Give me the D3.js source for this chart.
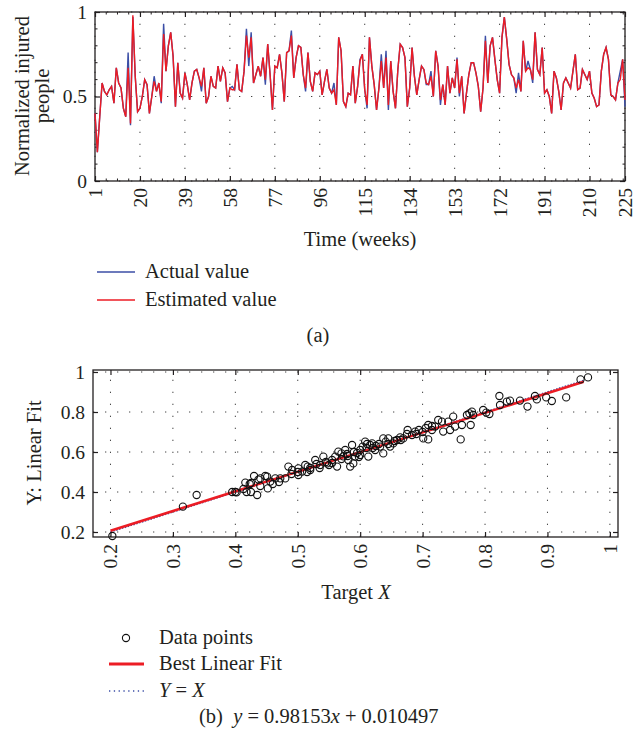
<!DOCTYPE html>
<html>
<head>
<meta charset="utf-8">
<script src="https://cdnjs.cloudflare.com/ajax/libs/d3/7.8.5/d3.min.js"></script>
<style>
body { margin: 0; background: #fff; }
text { font-family: "Liberation Serif", "Times New Roman", serif; fill: #231f20; }
</style>
</head>
<body>
<div id="chart-area"></div>
<script>
// (a) weekly values
var estimated = [
  .40,.17,.38,.58,.53,.51,.54,.56,.46,.67,
  .58,.55,.43,.38,.67,.34,.98,.62,.41,.43,
  .50,.60,.57,.40,.50,.59,.53,.58,.47,.87,
  .65,.80,.88,.74,.44,.70,.52,.49,.64,.57,
  .48,.58,.65,.66,.61,.56,.67,.46,.50,.62,
  .56,.55,.68,.59,.67,.64,.47,.55,.54,.54,
  .69,.54,.53,.65,.86,.73,.85,.58,.63,.68,
  .62,.73,.60,.81,.63,.42,.68,.67,.75,.64,
  .47,.76,.77,.86,.61,.73,.80,.79,.63,.55,
  .76,.59,.53,.64,.63,.65,.51,.59,.66,.55,
  .52,.54,.45,.85,.77,.47,.44,.52,.51,.68,
  .46,.56,.71,.75,.54,.45,.85,.68,.57,.42,
  .55,.71,.55,.73,.45,.71,.53,.43,.66,.81,
  .79,.73,.44,.55,.79,.62,.51,.60,.68,.66,
  .58,.57,.62,.50,.77,.68,.48,.57,.45,.68,
  .52,.61,.55,.72,.52,.62,.40,.52,.63,.70,
  .70,.64,.56,.41,.55,.83,.58,.80,.85,.72,
  .60,.52,.85,.97,.84,.69,.63,.61,.55,.60,
  .53,.83,.65,.67,.66,.60,.88,.66,.63,.79,
  .52,.54,.50,.40,.65,.61,.53,.42,.58,.61,
  .58,.55,.65,.75,.54,.55,.66,.63,.60,.65,
  .52,.49,.44,.45,.65,.75,.79,.72,.51,.50,
  .48,.58,.60,.72,.48
];
var actual = [
  .40,.17,.38,.58,.53,.51,.54,.56,.46,.67,
  .58,.55,.43,.38,.76,.33,.97,.62,.41,.43,
  .50,.60,.57,.40,.50,.62,.53,.58,.46,.93,
  .65,.80,.88,.74,.44,.70,.52,.49,.64,.57,
  .48,.58,.65,.66,.61,.53,.67,.46,.50,.62,
  .56,.55,.68,.59,.67,.64,.47,.55,.56,.54,
  .69,.54,.53,.65,.90,.68,.88,.58,.63,.68,
  .62,.73,.57,.81,.63,.42,.68,.67,.75,.64,
  .47,.76,.77,.89,.61,.73,.80,.79,.63,.53,
  .76,.59,.53,.64,.63,.65,.51,.59,.66,.55,
  .52,.58,.45,.85,.77,.47,.44,.52,.51,.68,
  .46,.56,.72,.75,.54,.43,.85,.68,.57,.42,
  .55,.75,.55,.77,.42,.71,.53,.43,.66,.81,
  .79,.73,.44,.55,.79,.62,.51,.60,.68,.66,
  .57,.57,.65,.50,.77,.68,.45,.57,.45,.68,
  .52,.61,.55,.73,.50,.62,.40,.52,.63,.70,
  .70,.64,.56,.41,.55,.86,.58,.80,.85,.72,
  .60,.52,.85,.97,.84,.69,.63,.61,.52,.64,
  .53,.83,.65,.71,.66,.58,.88,.66,.63,.79,
  .52,.54,.50,.40,.65,.61,.53,.42,.58,.61,
  .58,.55,.65,.75,.54,.55,.66,.63,.60,.65,
  .52,.49,.44,.45,.65,.75,.79,.72,.51,.50,
  .48,.58,.65,.72,.44
];
var weekTicks = [1,20,39,58,77,96,115,134,153,172,191,210,225];
var injuredTicks = [0, 0.5, 1];

// (b) regression points
var targetX = [
  .203,.316,.338,.395,.400,.402,.413,.416,.418,.423,.425,.430,.435,.437,.440,.448,
  .451,.452,.456,.464,.472,.480,.485,.491,.501,.501,.507,.512,.516,.520,.528,.536,
  .541,.547,.555,.560,.563,.565,.570,.573,.576,.579,.581,.584,.587,.589,.592,.600,
  .604,.608,.611,.613,.616,.619,.624,.632,.637,.637,.641,.645,.648,.653,.659,.664,
  .669,.676,.683,.688,.694,.701,.709,.709,.715,.720,.725,.731,.733,.741,.744,.749,
  .752,.761,.763,.771,.775,.777,.779,.781,.797,.802,.807,.823,.824,.835,.840,.856,
  .868,.880,.883,.898,.907,.930,.953,.965,
  .460,.470,.500,.520,.530,.545,.550,.580,.595,.600,.620,.630,.645,.655,.665,.675,
  .690,.700,.705,.715,.590,.598,.610,.625,.570,.555,.535,.515,.490,.440,.425
];
var outputY = [
  .180,.327,.385,.400,.400,.398,.415,.447,.400,.440,.400,.480,.385,.462,.468,.480,
  .477,.418,.452,.468,.468,.468,.527,.510,.518,.485,.502,.535,.527,.510,.560,.535,
  .577,.543,.560,.577,.527,.602,.593,.578,.610,.590,.560,.527,.635,.543,.577,.610,
  .627,.652,.640,.577,.635,.643,.610,.627,.668,.593,.652,.668,.627,.643,.660,.673,
  .668,.710,.685,.702,.710,.668,.735,.663,.710,.727,.760,.752,.702,.752,.710,.777,
  .727,.663,.735,.785,.793,.735,.802,.785,.810,.797,.790,.880,.835,.852,.857,.857,
  .827,.880,.863,.873,.855,.873,.963,.973,
  .440,.450,.500,.520,.540,.550,.535,.580,.595,.585,.620,.640,.640,.655,.660,.690,
  .690,.700,.720,.730,.600,.575,.620,.630,.565,.545,.520,.500,.490,.430,.445
];
var fitTicks = [0.2,0.3,0.4,0.5,0.6,0.7,0.8,0.9,1];
var fitYTicks = [0.2,0.4,0.6,0.8,1];
var fitSlope = 0.98153, fitIntercept = 0.010497;

var blue = "#3b4ea6", red = "#ec1c24", ink = "#231f20";

var svg = d3.select("#chart-area").append("svg")
    .attr("width", 644)
    .attr("height", 742);

function dotted(g, x1, y1, x2, y2) {
  g.append("line")
    .attr("x1", x1).attr("y1", y1).attr("x2", x2).attr("y2", y2)
    .attr("stroke", "#444").attr("stroke-width", 1)
    .attr("stroke-dasharray", "1.3,10.7");
}

function frameAxes(x, y, xt, yt) {
  var g = svg.append("g");
  var r = x.range(), h = y.range();
  // grid
  xt.forEach((t)=>{ dotted(g, x(t), h[0], x(t), h[1]); });
  yt.forEach((t)=>{ dotted(g, r[0], y(t), r[1], y(t)); });

  var bottom = g.append("g").attr("transform", "translate(0," + h[0] + ")")
    .call(d3.axisBottom(x).tickValues(xt).tickSize(-5).tickFormat(d3.format("")));
  bottom.selectAll("text")
    .attr("transform", "rotate(-90)")
    .attr("x", -7).attr("y", 0).attr("dy", "0.33em")
    .style("text-anchor", "end");
  g.append("g").attr("transform", "translate(0," + h[1] + ")")
    .call(d3.axisTop(x).tickValues(xt).tickSize(-5).tickFormat(""));
  g.append("g").attr("transform", "translate(" + r[0] + ",0)")
    .call(d3.axisLeft(y).tickValues(yt).tickSize(-5).tickPadding(8).tickFormat(d3.format("")));
  g.append("g").attr("transform", "translate(" + r[1] + ",0)")
    .call(d3.axisRight(y).tickValues(yt).tickSize(-5).tickFormat(""));

  g.selectAll(".domain").remove();
  g.selectAll(".tick line").attr("stroke", ink).attr("stroke-width", 1.2);
  g.selectAll(".tick text").attr("font-size", 19.5).attr("fill", ink)
    .attr("font-family", "Liberation Serif");

  g.append("rect")
    .attr("x", r[0]).attr("y", h[1])
    .attr("width", r[1] - r[0]).attr("height", h[0] - h[1])
    .attr("fill", "none").attr("stroke", ink).attr("stroke-width", 1.3);
  return g;
}

// ---------- (a) time series ----------
var x = d3.scaleLinear().domain([1, 225]).range([95, 625]);
var y = d3.scaleLinear().domain([0, 1]).range([181, 12]);

var ga = frameAxes(x, y, weekTicks, injuredTicks);

// minor ticks
var minorX = [];
for (var i = 0; i < weekTicks.length - 1; i++) {
  for (var k = 1; k < 4; k++) minorX.push(weekTicks[i] + k * 19 / 4);
}
minorX = minorX.filter((d)=> d < 225);
ga.selectAll(".mxb").data(minorX).enter().append("line")
  .attr("x1", (d)=>x(d)).attr("x2", (d)=>x(d))
  .attr("y1", 181).attr("y2", 178.5).attr("stroke", ink);
ga.selectAll(".mxt").data(minorX).enter().append("line")
  .attr("x1", (d)=>x(d)).attr("x2", (d)=>x(d))
  .attr("y1", 12).attr("y2", 14.5).attr("stroke", ink);
var minorY = [0.1,0.2,0.3,0.4,0.6,0.7,0.8,0.9];
ga.selectAll(".myl").data(minorY).enter().append("line")
  .attr("x1", 95).attr("x2", 97.5)
  .attr("y1", (d)=>y(d)).attr("y2", (d)=>y(d)).attr("stroke", ink);
ga.selectAll(".myr").data(minorY).enter().append("line")
  .attr("x1", 625).attr("x2", 622.5)
  .attr("y1", (d)=>y(d)).attr("y2", (d)=>y(d)).attr("stroke", ink);

var line = d3.line()
  .x((d, i)=>x(i + 1))
  .y((d)=>y(d));

svg.append("path").datum(actual)
  .attr("d", line).attr("fill", "none")
  .attr("stroke", blue).attr("stroke-width", 1.4);
svg.append("path").datum(estimated)
  .attr("d", line).attr("fill", "none")
  .attr("stroke", red).attr("stroke-width", 1.4);

svg.append("text")
  .attr("transform", "translate(29,96) rotate(-90)")
  .attr("text-anchor", "middle").attr("font-size", 20.5)
  .text("Normalized injured");
svg.append("text")
  .attr("transform", "translate(49,96) rotate(-90)")
  .attr("text-anchor", "middle").attr("font-size", 20.5)
  .text("people");
svg.append("text")
  .attr("x", 360).attr("y", 246)
  .attr("text-anchor", "middle").attr("font-size", 20.5)
  .text("Time (weeks)");

var legA = [{name: "Actual value", color: blue}, {name: "Estimated value", color: red}];
legA.forEach((d, i)=>{
  svg.append("line")
    .attr("x1", 97).attr("x2", 135)
    .attr("y1", 272 + i * 28).attr("y2", 272 + i * 28)
    .attr("stroke", d.color).attr("stroke-width", 1.4);
  svg.append("text")
    .attr("x", 145).attr("y", 278 + i * 28)
    .attr("font-size", 20.5)
    .text(d.name);
});
svg.append("text")
  .attr("x", 318).attr("y", 342)
  .attr("text-anchor", "middle").attr("font-size", 20.5)
  .text("(a)");

// ---------- (b) regression ----------
var x2 = d3.scaleLinear().domain([0.172, 1.013]).range([93, 618]);
var y2 = d3.scaleLinear().domain([0.175, 1.01]).range([537, 370]);

frameAxes(x2, y2, fitTicks, fitYTicks);

var fitEnds = [0.2, 0.958];
svg.append("line")
  .attr("x1", x2(fitEnds[0])).attr("y1", y2(fitEnds[0]))
  .attr("x2", x2(fitEnds[1])).attr("y2", y2(fitEnds[1]))
  .attr("stroke", blue).attr("stroke-width", 1.5)
  .attr("stroke-dasharray", "1.5,1.5");
svg.append("line")
  .attr("x1", x2(fitEnds[0])).attr("y1", y2(fitSlope * fitEnds[0] + fitIntercept))
  .attr("x2", x2(fitEnds[1])).attr("y2", y2(fitSlope * fitEnds[1] + fitIntercept))
  .attr("stroke", red).attr("stroke-width", 2.6);

svg.selectAll(".pt")
  .data(targetX)
  .enter()
  .append("circle")
  .attr("cx", (d)=>x2(d))
  .attr("cy", (d, i)=>y2(outputY[i]))
  .attr("r", 3.6)
  .attr("fill", "none")
  .attr("stroke", "#111")
  .attr("stroke-width", 1.1);

svg.append("text")
  .attr("transform", "translate(41,453) rotate(-90)")
  .attr("text-anchor", "middle").attr("font-size", 20.5)
  .text("Y: Linear Fit");
var tx = svg.append("text")
  .attr("x", 356).attr("y", 599)
  .attr("text-anchor", "middle").attr("font-size", 20.5);
tx.append("tspan").text("Target ");
tx.append("tspan").attr("font-style", "italic").text("X");

// legend (b)
svg.append("circle").attr("cx", 126).attr("cy", 638).attr("r", 3.6)
  .attr("fill", "none").attr("stroke", "#111").attr("stroke-width", 1.1);
svg.append("text").attr("x", 159).attr("y", 644).attr("font-size", 20.5).text("Data points");
svg.append("line").attr("x1", 109).attr("x2", 144).attr("y1", 664).attr("y2", 664)
  .attr("stroke", red).attr("stroke-width", 3);
svg.append("text").attr("x", 159).attr("y", 670).attr("font-size", 20.5).text("Best Linear Fit");
svg.append("line").attr("x1", 109).attr("x2", 144).attr("y1", 691).attr("y2", 691)
  .attr("stroke", blue).attr("stroke-width", 1.3).attr("stroke-dasharray", "1.3,3.5");
var yx = svg.append("text").attr("x", 159).attr("y", 697).attr("font-size", 20.5);
yx.append("tspan").attr("font-style", "italic").text("Y");
yx.append("tspan").text(" = ");
yx.append("tspan").attr("font-style", "italic").text("X");

var cap = svg.append("text").attr("x", 199).attr("y", 723).attr("font-size", 20.5)
  .attr("xml:space", "preserve").style("white-space", "pre");
cap.append("tspan").text("(b)  ");
cap.append("tspan").attr("font-style", "italic").text("y");
cap.append("tspan").text(" = 0.98153");
cap.append("tspan").attr("font-style", "italic").text("x");
cap.append("tspan").text(" + 0.010497");
</script>
</body>
</html>
